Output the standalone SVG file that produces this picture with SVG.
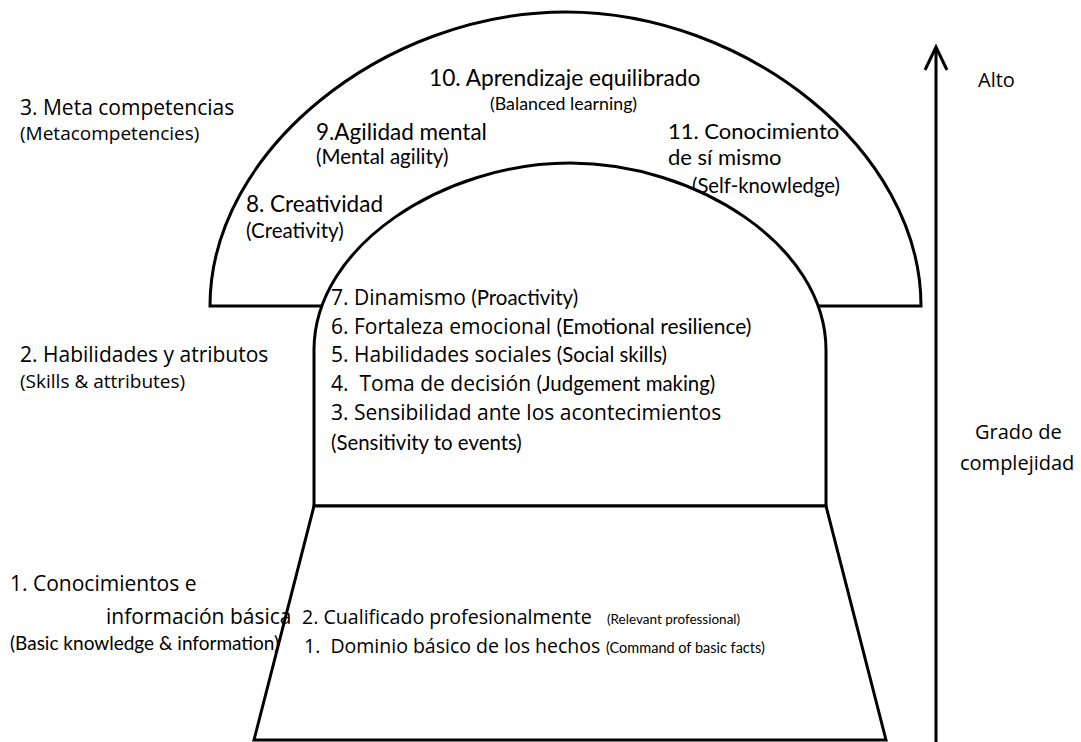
<svg xmlns="http://www.w3.org/2000/svg" width="1081" height="742" viewBox="0 0 1081 742">
  <style>
    .shape { fill: #ffffff; stroke: #000000; stroke-width: 3; stroke-linejoin: miter; }
    .wide { font-family: "Open Sans", "DejaVu Sans", sans-serif; fill: #000000; }
    .narrow { font-family: "Lato", "Liberation Sans", sans-serif; fill: #000000; }
    .axis { stroke: #000000; stroke-width: 3; fill: none; }
  </style>

  <!-- outer arch: metacompetencies -->
  <g id="meta">
    <path class="shape" d="M210,306 C210,150 385,12 565.5,12 C746,12 921,150 921,306 Z"/>
    <text class="narrow" x="429" y="86" font-size="22.7">10. Aprendizaje equilibrado</text>
    <text class="narrow" x="490" y="110" font-size="17.8">(Balanced learning)</text>
    <text class="narrow" x="316" y="140" font-size="22.5">9.Agilidad mental</text>
    <text class="narrow" x="316" y="164" font-size="20.5">(Mental agility)</text>
    <text class="narrow" x="668" y="139" font-size="22">11. Conocimiento</text>
    <text class="narrow" x="668" y="165" font-size="22">de sí mismo</text>
    <text class="narrow" x="692" y="193" font-size="20.3">(Self-knowledge)</text>
    <text class="narrow" x="246" y="212" font-size="22.5">8. Creatividad</text>
    <text class="narrow" x="246" y="238" font-size="20.5">(Creativity)</text>
  </g>

  <!-- inner arch: skills and attributes -->
  <g id="skills">
    <path class="shape" d="M314,506 L314,350 C314,245 445,163 570,163 C695,163 826,245 826,350 L826,506 Z"/>
    <text x="331" y="305"><tspan class="wide" font-size="21">7. Dinamismo </tspan><tspan class="narrow" font-size="20.4">(Proactivity)</tspan></text>
    <text x="331" y="334"><tspan class="wide" font-size="21">6. Fortaleza emocional </tspan><tspan class="narrow" font-size="21">(Emotional resilience)</tspan></text>
    <text x="331" y="362"><tspan class="wide" font-size="21">5. Habilidades sociales </tspan><tspan class="narrow" font-size="20.4">(Social skills)</tspan></text>
    <text x="331" y="391" xml:space="preserve"><tspan class="wide" font-size="21">4.  Toma de decisión </tspan><tspan class="narrow" font-size="20.4">(Judgement making)</tspan></text>
    <text class="wide" x="331" y="420" font-size="21">3. Sensibilidad ante los acontecimientos</text>
    <text class="narrow" x="331" y="450" font-size="20.4">(Sensitivity to events)</text>
  </g>

  <!-- trapezoid base: basic knowledge -->
  <g id="basic">
    <path class="shape" d="M314,506 L826,506 L886,740 L254,740 Z"/>
    <text class="wide" x="302" y="624" font-size="19.6">2. Cualificado profesionalmente</text>
    <text class="narrow" x="607" y="624" font-size="13.5">(Relevant professional)</text>
    <text class="wide" x="304" y="653" font-size="19.5" xml:space="preserve">1.  Dominio básico de los hechos</text>
    <text class="narrow" x="606" y="653" font-size="14.5">(Command of basic facts)</text>
  </g>

  <!-- level labels on the left -->
  <g id="level-labels">
    <text class="wide" x="20" y="115" font-size="21">3. Meta competencias</text>
    <text class="wide" x="20" y="140" font-size="19">(Metacompetencies)</text>
    <text class="wide" x="20" y="362" font-size="21">2. Habilidades y atributos</text>
    <text class="wide" x="20" y="388" font-size="19">(Skills &amp; attributes)</text>
    <text class="wide" x="10" y="591" font-size="21">1. Conocimientos e</text>
    <text class="wide" x="106" y="624" font-size="21">información básica</text>
    <text class="narrow" x="10" y="650" font-size="19">(Basic knowledge &amp; information)</text>
  </g>

  <!-- complexity axis -->
  <g id="connectors">
    <line class="axis" x1="936" y1="742" x2="936" y2="47"/>
    <polyline class="axis" points="925,70 936,47 947,70"/>
  </g>
  <g id="axis-labels">
    <text class="wide" x="978" y="87" font-size="20">Alto</text>
    <text class="wide" x="975" y="439" font-size="20">Grado de</text>
    <text class="wide" x="960" y="470" font-size="20">complejidad</text>
  </g>
</svg>
